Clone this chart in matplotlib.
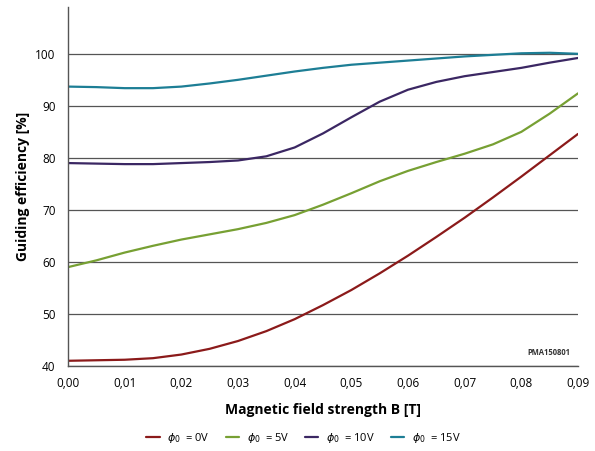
import matplotlib
matplotlib.use("Agg")
import matplotlib.pyplot as plt

plt.rcParams['font.family'] = ['Open Sans', 'DejaVu Sans']

B = [0.000, 0.005, 0.010, 0.015, 0.020, 0.025, 0.030, 0.035, 0.040, 0.045,
     0.050, 0.055, 0.060, 0.065, 0.070, 0.075, 0.080, 0.085, 0.090]
eff_0V = [41.0, 41.1, 41.2, 41.5, 42.2, 43.3, 44.8, 46.7, 49.0, 51.7,
          54.6, 57.8, 61.2, 64.8, 68.5, 72.4, 76.4, 80.5, 84.6]
eff_5V = [59.0, 60.3, 61.8, 63.1, 64.3, 65.3, 66.3, 67.5, 69.0, 71.0,
          73.2, 75.5, 77.5, 79.2, 80.8, 82.6, 85.0, 88.5, 92.4]
eff_10V = [79.0, 78.9, 78.8, 78.8, 79.0, 79.2, 79.5, 80.3, 82.0, 84.7,
           87.8, 90.8, 93.1, 94.6, 95.7, 96.5, 97.3, 98.3, 99.2]
eff_15V = [93.7, 93.6, 93.4, 93.4, 93.7, 94.3, 95.0, 95.8, 96.6, 97.3,
           97.9, 98.3, 98.7, 99.1, 99.5, 99.8, 100.1, 100.2, 100.0]
labels = [r'$\phi_0$  = 0V', r'$\phi_0$  = 5V', r'$\phi_0$  = 10V', r'$\phi_0$  = 15V']
colors = ['#8B1A1A', '#77A033', '#3B2763', '#1D7E95']
xticks = [0.00, 0.01, 0.02, 0.03, 0.04, 0.05, 0.06, 0.07, 0.08, 0.09]
yticks = [40, 50, 60, 70, 80, 90, 100]

fig = plt.figure(figsize=(5.95, 4.51), dpi=100)
ax = fig.add_axes([0.1143, 0.1885, 0.8571, 0.7960])

for y, c, l in zip([eff_0V, eff_5V, eff_10V, eff_15V], colors, labels):
    ax.plot(B, y, color=c, lw=1.6, label=l, solid_joinstyle='round',
            solid_capstyle='round')

ax.set_xlim(0, 0.09)
ax.set_ylim(40, 109.0)
ax.set_xticks(xticks)
ax.set_xticklabels([f"{t:.2f}".replace('.', ',') for t in xticks], fontsize=8.5)
ax.set_yticks(yticks)
ax.set_yticklabels([str(t) for t in yticks], fontsize=8.5)
ax.tick_params(axis='x', length=0, pad=8)
ax.tick_params(axis='y', length=0, pad=9)
ax.yaxis.grid(True, color='#555555', lw=0.9)
ax.set_axisbelow(True)
for s in ['top', 'right']:
    ax.spines[s].set_visible(False)
for s in ['left', 'bottom']:
    ax.spines[s].set_color('#555555')
    ax.spines[s].set_linewidth(1.0)

ax.set_xlabel('Magnetic field strength B [T]', fontsize=10, fontweight='bold', labelpad=9)
ax.set_ylabel('Guiding efficiency [%]', fontsize=10, fontweight='bold', labelpad=4)

ax.text(0.985, 0.025, 'PMA150801', transform=ax.transAxes, ha='right', va='bottom',
        fontsize=5.5, fontweight='bold', color='#333333')

fig.legend(loc='center', bbox_to_anchor=(0.51, 0.028), ncol=4, frameon=False,
           fontsize=8, handlelength=1.2, columnspacing=1.4, handletextpad=0.7)

fig.savefig('out.png', dpi=100)
